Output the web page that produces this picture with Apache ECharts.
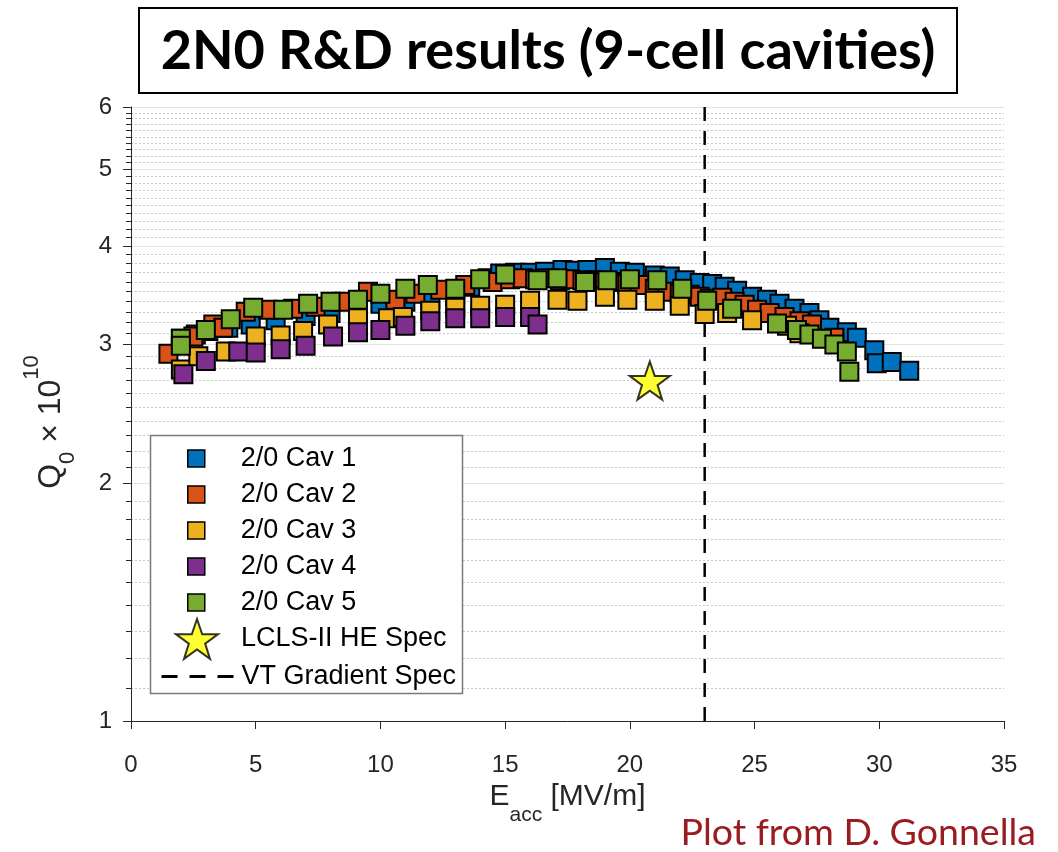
<!DOCTYPE html>
<html>
<head>
<meta charset="utf-8">
<script src="https://cdn.jsdelivr.net/npm/echarts@6/dist/echarts.min.js"></script>
<style>
  html, body { margin: 0; padding: 0; background: #ffffff; }
  #chart { width: 1058px; height: 852px; }
</style>
</head>
<body>
<div id="chart"></div>
<script>
// Q0 (x 1e10) versus accelerating gradient Eacc [MV/m] for five 9-cell cavities
const cav1 = [[2.0,3.05],[2.6,3.09],[3.1,3.12],[3.9,3.15],[4.8,3.18],[5.8,3.22],[7.0,3.26],[8.0,3.29],
  [9.1,3.35],[10.0,3.38],[11.0,3.40],[12.0,3.42],[13.0,3.45],[13.6,3.55],[14.3,3.64],[14.8,3.69],
  [15.4,3.70],[16.0,3.70],[16.6,3.71],[17.3,3.73],[17.8,3.72],[18.3,3.73],[19.0,3.75],[19.6,3.71],
  [20.2,3.70],[21.0,3.67],[21.6,3.66],[22.2,3.62],[22.8,3.59],[23.3,3.58],[23.8,3.55],[24.3,3.51],
  [24.9,3.45],[25.5,3.42],[26.0,3.38],[26.6,3.33],[27.2,3.29],[27.6,3.22],[28.0,3.15],[28.7,3.11],
  [29.1,3.06],[29.8,2.95],[29.9,2.84],[30.5,2.85],[31.2,2.78]];
const cav2 = [[1.5,2.92],[2.5,3.07],[3.3,3.18],[3.7,3.15],[4.6,3.30],[5.5,3.32],[6.5,3.33],[7.4,3.35],
  [8.5,3.40],[9.5,3.50],[10.6,3.42],[11.4,3.48],[12.4,3.52],[13.4,3.57],[14.5,3.60],[15.2,3.63],
  [15.7,3.64],[16.2,3.63],[16.7,3.64],[17.2,3.62],[17.6,3.63],[18.1,3.62],[18.6,3.62],[19.0,3.60],
  [19.4,3.60],[19.9,3.58],[20.4,3.57],[21.0,3.53],[21.5,3.50],[22.0,3.48],[22.4,3.47],[22.8,3.45],
  [23.2,3.43],[23.7,3.44],[24.2,3.40],[24.6,3.37],[25.1,3.32],[25.6,3.29],[26.2,3.25],[26.8,3.21],
  [27.3,3.18],[28.2,3.06]];
const cav3 = [[2.0,2.79],[2.7,2.90],[3.8,2.94],[5.0,3.07],[6.0,3.08],[6.9,3.12],[7.9,3.18],[9.1,3.24],
  [10.3,3.24],[10.9,3.25],[12.0,3.31],[13.0,3.34],[14.0,3.36],[15.0,3.37],[16.0,3.41],[17.1,3.42],
  [17.9,3.41],[19.0,3.45],[19.9,3.42],[21.0,3.41],[22.0,3.36],[23.0,3.28],[23.9,3.29],[24.9,3.22],
  [26.3,3.17],[26.8,3.10]];
const cav4 = [[2.1,2.75],[3.0,2.86],[4.3,2.94],[5.0,2.93],[6.0,2.96],[7.0,2.99],[8.1,3.07],[9.1,3.11],
  [10.0,3.13],[11.0,3.17],[12.0,3.21],[13.0,3.24],[14.0,3.24],[15.0,3.25],[16.0,3.25],[16.3,3.18]];
const cav5 = [[2.0,3.05],[2.0,2.99],[3.0,3.13],[4.0,3.23],[4.9,3.34],[6.1,3.32],[7.1,3.38],[8.0,3.40],
  [9.1,3.42],[10.0,3.48],[11.0,3.53],[11.9,3.57],[13.0,3.53],[14.0,3.63],[15.0,3.68],[16.3,3.62],
  [17.1,3.64],[18.2,3.60],[19.1,3.62],[20.0,3.63],[21.1,3.62],[22.1,3.53],[23.1,3.41],[24.1,3.33],
  [25.9,3.19],[26.7,3.13],[27.2,3.09],[27.7,3.05],[28.2,3.00],[28.7,2.94],[28.8,2.77]];
const heSpec = [[20.8, 2.7]];
const vtGradient = [[23, 1], [23, 6]];

const seriesNames = ['2/0 Cav 1', '2/0 Cav 2', '2/0 Cav 3', '2/0 Cav 4', '2/0 Cav 5'];
const specName = 'LCLS-II HE Spec';
const vtName = 'VT Gradient Spec';
const seriesColors = ['#0072BD', '#D95319', '#EDB120', '#7E2F8E', '#77AC30'];

const xTicks = { min: 0, max: 35, step: 5 };
const yMajor = [1, 2, 3, 4, 5, 6];
const yMinor = [1.1, 1.2, 1.3, 1.4, 1.5, 1.6, 1.7, 1.8, 1.9,
  2.1, 2.2, 2.3, 2.4, 2.5, 2.6, 2.7, 2.8, 2.9,
  3.1, 3.2, 3.3, 3.4, 3.5, 3.6, 3.7, 3.8, 3.9,
  4.1, 4.2, 4.3, 4.4, 4.5, 4.6, 4.7, 4.8, 4.9,
  5.1, 5.2, 5.3, 5.4, 5.5, 5.6, 5.7, 5.8, 5.9];

const titleText = '2N0 R&D results (9-cell cavities)';
const creditText = 'Plot from D. Gonnella';

const STAR = 'path://M50,0 L61.8,34.5 L97.6,34.5 L68.5,55.9 L79.4,90.5 L50,69.1 L20.6,90.5 L31.5,55.9 L2.4,34.5 L38.2,34.5 Z';
const SANS = '"Liberation Sans", Arial, Helvetica, sans-serif';
const AXIS_INK = '#262626';

const cavData = [cav1, cav2, cav3, cav4, cav5];
const cavSeries = cavData.map((d, i) => ({
  name: seriesNames[i],
  type: 'scatter',
  data: d,
  symbol: 'rect',
  symbolSize: 18,
  itemStyle: { color: seriesColors[i], borderColor: '#000', borderWidth: 2, opacity: 1 },
  emphasis: { disabled: true },
  z: 3
}));

const vtSeries = {
  name: vtName,
  type: 'line',
  data: vtGradient,
  symbol: 'none',
  lineStyle: { color: '#000', width: 2.5, type: [14, 10] },
  itemStyle: { color: '#000' },
  emphasis: { disabled: true },
  z: 3
};

const specSeries = {
  name: specName,
  type: 'scatter',
  data: heSpec,
  symbol: STAR,
  symbolSize: 40,
  symbolKeepAspect: true,
  itemStyle: { color: '#FFFF00', borderColor: '#000', borderWidth: 2 },
  emphasis: { disabled: true },
  z: 4
};

const legendText = { fontFamily: SANS, fontSize: 27, color: '#000', lineHeight: 27 };

const option = {
  backgroundColor: '#ffffff',
  animation: false,
  grid: { left: 131, right: 54, top: 107, bottom: 131, containLabel: false },
  xAxis: {
    type: 'value',
    min: xTicks.min, max: xTicks.max, interval: xTicks.step,
    axisLine: { show: true, lineStyle: { color: AXIS_INK, width: 1 } },
    axisTick: { show: true, length: 8, lineStyle: { color: AXIS_INK } },
    axisLabel: { fontFamily: SANS, fontSize: 24, color: AXIS_INK, margin: 32 },
    splitLine: { show: false },
    name: '{e|E}{s|acc}{t| [MV/m]}',
    nameLocation: 'middle',
    nameGap: 61,
    nameTextStyle: {
      rich: {
        e: { fontFamily: SANS, fontSize: 30, lineHeight: 30, color: AXIS_INK, verticalAlign: 'top' },
        t: { fontFamily: SANS, fontSize: 30, lineHeight: 30, color: AXIS_INK, verticalAlign: 'top' },
        s: { fontFamily: SANS, fontSize: 21, lineHeight: 21, color: AXIS_INK, verticalAlign: 'top', padding: [23, 0, 0, 0] }
      }
    }
  },
  yAxis: [{
    type: 'log', logBase: 10, min: 1, max: 6, position: 'left',
    axisLine: { show: true, lineStyle: { color: AXIS_INK, width: 1 } },
    axisTick: { show: true, length: 8, customValues: yMajor, lineStyle: { color: AXIS_INK } },
    axisLabel: { customValues: yMajor, fontFamily: SANS, fontSize: 24, color: AXIS_INK, margin: 19,
      formatter: v => String(Math.round(v)) },
    splitLine: { show: true, lineStyle: { color: '#e3e3e3', width: 1.2 } },
    name: '{q|Q}{s|0}{t| \u00d7 10}{p|10}',
    nameLocation: 'middle',
    nameGap: 78,
    nameRotate: 90,
    nameTextStyle: {
      rich: {
        q: { fontFamily: SANS, fontSize: 32, lineHeight: 32, color: AXIS_INK, verticalAlign: 'top', padding: [14, 0, 0, 0] },
        t: { fontFamily: SANS, fontSize: 32, lineHeight: 32, color: AXIS_INK, verticalAlign: 'top', padding: [14, 0, 0, 0] },
        s: { fontFamily: SANS, fontSize: 22, lineHeight: 22, color: AXIS_INK, verticalAlign: 'top', padding: [36, 0, 0, 0] },
        p: { fontFamily: SANS, fontSize: 22, lineHeight: 22, color: AXIS_INK, verticalAlign: 'top', padding: [0, 16, 0, 0] }
      }
    }
  }, {
    // minor ticks and dotted minor grid at every 0.1
    type: 'log', logBase: 10, min: 1, max: 6, position: 'left',
    axisLine: { show: false },
    axisTick: { show: true, length: 5, customValues: yMinor, lineStyle: { color: AXIS_INK } },
    axisLabel: { show: false },
    splitLine: { show: true, lineStyle: { color: '#c9c9c9', width: 1, type: [2, 2] } }
  }],
  legend: [{
    data: seriesNames,
    orient: 'vertical',
    left: 182, top: 440,
    itemWidth: 17, itemHeight: 17, itemGap: 9,
    icon: 'rect',
    itemStyle: { borderColor: '#000', borderWidth: 1.5 },
    textStyle: Object.assign({ padding: [0, 0, 0, 31] }, legendText),
    selectedMode: false
  }, {
    data: [specName],
    orient: 'vertical',
    left: 170, top: 613,
    itemWidth: 42, itemHeight: 40,
    itemStyle: { borderColor: '#000', borderWidth: 2 },
    textStyle: Object.assign({ padding: [0, 0, 0, 18] }, legendText),
    selectedMode: false
  }, {
    data: [vtName],
    orient: 'vertical',
    left: 155, top: 658,
    itemWidth: 72, itemHeight: 27,
    itemStyle: { opacity: 0, color: 'rgba(0,0,0,0)', borderWidth: 0 },
    lineStyle: { color: '#000', width: 3, type: [16, 12] },
    textStyle: Object.assign({ padding: [0, 0, 0, 3] }, legendText),
    selectedMode: false
  }],
  graphic: [{
    type: 'rect',
    shape: { x: 150.5, y: 435.5, width: 312, height: 258 },
    style: { fill: '#ffffff', stroke: '#7a7a7a', lineWidth: 1.5 },
    z: 3, silent: true
  }, {
    type: 'rect',
    shape: { x: 139, y: 8, width: 818, height: 85 },
    style: { fill: '#ffffff', stroke: '#000', lineWidth: 2 },
    z: 3, silent: true
  }, {
    type: 'text',
    x: 548, y: 52,
    style: { text: titleText, font: 'bold 54px Lato, "Noto Sans", sans-serif', fill: '#000',
      textAlign: 'center', textVerticalAlign: 'middle' },
    z: 4, silent: true
  }, {
    type: 'text',
    x: 1036, y: 833,
    style: { text: creditText, font: '37.5px Lato, "Noto Sans", sans-serif', fill: '#9b1c20',
      textAlign: 'right', textVerticalAlign: 'middle' },
    z: 4, silent: true
  }],
  series: [cavSeries[0], vtSeries, cavSeries[1], cavSeries[2], cavSeries[3], cavSeries[4], specSeries]
};

const chart = echarts.init(document.getElementById('chart'), null, { renderer: 'canvas' });
chart.setOption(option);
</script>
</body>
</html>
